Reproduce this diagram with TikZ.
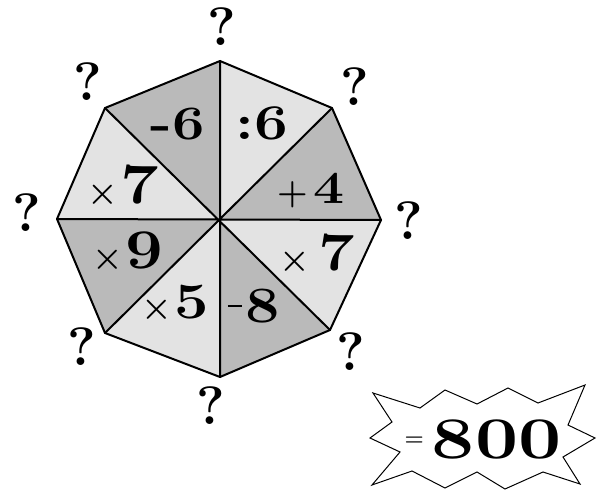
\documentclass[tikz,border=0pt]{standalone}
\usepackage{graphicx}
\begin{document}
\begin{tikzpicture}[x=1pt,y=-1pt,
  edge/.style={line width=2pt, line join=round, line cap=round},
  darkfill/.style={fill=black!27},
  lightfill/.style={fill=black!11},
  qmark/.style={inner sep=0pt, font=\fontsize{54}{56}\selectfont\bfseries},
  oplabel/.style={inner sep=0pt, anchor=base},
  burst/.style={line width=1pt, line join=miter, fill=white}]
\newcommand\bigdig[3][51]{\scalebox{#3}[1]{\fontsize{#1}{#1}\selectfont\bfseries #2}}
\newcommand\smallop[2][0]{\raisebox{#1pt}{\fontsize{35}{35}\selectfont\bfseries #2}}
\newcommand\thinminus{\rule[15pt]{14pt}{2.4pt}\hspace{4pt}}
\fill[white] (0,0) rectangle (597,492);
\useasboundingbox (0,0) rectangle (597,492);
% octagon
\coordinate (c) at (219,220);
\coordinate (v0) at (220,61);
\coordinate (v1) at (332,108);
\coordinate (v2) at (381,220);
\coordinate (v3) at (330,330);
\coordinate (v4) at (220,377);
\coordinate (v5) at (105,333);
\coordinate (v6) at (57,219);
\coordinate (v7) at (105,108);
\fill[lightfill] (c)--(v0)--(v1)--cycle;
\fill[darkfill]  (c)--(v1)--(v2)--cycle;
\fill[lightfill] (c)--(v2)--(v3)--cycle;
\fill[darkfill]  (c)--(v3)--(v4)--cycle;
\fill[lightfill] (c)--(v4)--(v5)--cycle;
\fill[darkfill]  (c)--(v5)--(v6)--cycle;
\fill[lightfill] (c)--(v6)--(v7)--cycle;
\fill[darkfill]  (c)--(v7)--(v0)--cycle;
\draw[edge] (v0)--(v1)--(v2)--(v3)--(v4)--(v5)--(v6)--(v7)--cycle;
\draw[edge] (v0)--(v4) (v1)--(v5) (v2)--(v6) (v3)--(v7);
% sector labels
\node[oplabel] (lminus6) at (178,140) {\bigdig[48]{-6}{1.2}};
\node[oplabel] (ldiv6) at (262,140) {\bigdig[50]{:6}{1.2}};
\node[oplabel] (ltimes7a) at (123,203) {\smallop{×}\hspace{2pt}\bigdig[57]{7}{1.2}};
\node[oplabel] (lplus4) at (311,203) {\smallop{+}\hspace{6pt}\bigdig[46]{4}{1.2}};
\node[oplabel] (ltimes7b) at (317,270) {\smallop{×}\hspace{8pt}\bigdig[54]{7}{1.2}};
\node[oplabel] (ltimes9) at (128,268) {\smallop{×}\hspace{2pt}\bigdig[56]{9}{1.2}};
\node[oplabel] (ltimes5) at (175,318) {\smallop{×}\hspace{2pt}\bigdig[51]{5}{1.2}};
\node[oplabel] (lminus8) at (254,322) {\thinminus\bigdig[51]{8}{1.2}};
% question marks
\node[qmark] (q0) at (222,27) {?};
\node[qmark] (q1) at (355,87) {?};
\node[qmark] (q2) at (409,221) {?};
\node[qmark] (q3) at (351,352) {?};
\node[qmark] (q4) at (211,406) {?};
\node[qmark] (q5) at (82,347) {?};
\node[qmark] (q6) at (27,213) {?};
\node[qmark] (q7) at (88,82) {?};
% starburst
\draw[burst] (373,393) -- (420,408) -- (445,390) -- (477,404) -- (508,388)
  -- (538,403) -- (585,385) -- (568,425) -- (595,438) -- (563,457)
  -- (580,484) -- (543,472) -- (505,489) -- (477,472) -- (445,488)
  -- (412,471) -- (372,485) -- (400,452) -- (370,438) -- (392,422) -- cycle;
\node[oplabel] (result) at (483,458) {\raisebox{13pt}{\fontsize{22}{22}\selectfont\bfseries =}\hspace{8pt}\bigdig[59]{800}{1.3}};
\end{tikzpicture}
\end{document}
